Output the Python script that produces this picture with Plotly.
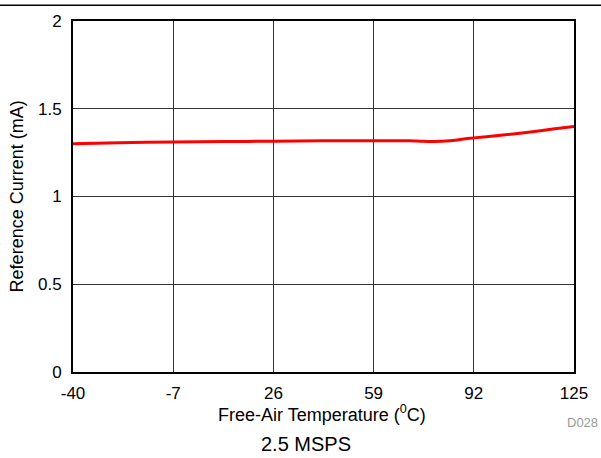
import plotly.graph_objects as go

temps = [-40, -25, -7, 10, 26, 42, 59, 66, 71, 75, 79, 84, 88, 92, 100, 110, 118, 125]
current = [1.301, 1.306, 1.311, 1.313, 1.315, 1.317, 1.318, 1.318, 1.318, 1.315, 1.314, 1.318, 1.326, 1.334, 1.347, 1.366, 1.384, 1.399]

x_ticks = [-40, -7, 26, 59, 92, 125]
y_ticks = [0, 0.5, 1, 1.5, 2]
y_tick_labels = ["0", "0.5", "1", "1.5", "2"]

FONT = "Liberation Sans, Arial, sans-serif"

fig = go.Figure()
fig.add_trace(go.Scatter(x=temps, y=current, mode="lines",
                         line=dict(color="#ff0000", width=3, shape="spline", smoothing=0.6),
                         showlegend=False, hoverinfo="skip"))

fig.update_layout(
    width=601, height=458,
    margin=dict(l=73, r=27, t=17, b=86),
    paper_bgcolor="white", plot_bgcolor="white",
    font=dict(family=FONT, size=17, color="black"),
    xaxis=dict(range=[-40, 125], tickvals=x_ticks, ticktext=[str(t) for t in x_ticks],
               showgrid=True, gridcolor="#333333", gridwidth=1,
               showline=True, linecolor="black", linewidth=2, mirror=True,
               zeroline=False, ticks="", ticklen=0, ticklabelstandoff=5,
               tickfont=dict(size=17)),
    yaxis=dict(range=[0, 2], tickvals=y_ticks, ticktext=y_tick_labels,
               showgrid=True, gridcolor="#333333", gridwidth=1,
               showline=True, linecolor="black", linewidth=2, mirror=True,
               zeroline=False, ticks="", ticklen=0, ticklabelstandoff=6,
               tickfont=dict(size=17)),
    shapes=[dict(type="line", xref="paper", yref="paper", x0=-0.2, x1=1.1,
                 y0=1.0 + 16/355, y1=1.0 + 16/355,
                 line=dict(color="black", width=1.5))],
    annotations=[
        dict(text="Free-Air Temperature (<sup>0</sup>C)", xref="paper", yref="paper",
             x=0.498, y=-0.118, xanchor="center", yanchor="middle", showarrow=False,
             font=dict(size=18, color="black", family=FONT)),
        dict(text="Reference Current (mA)", xref="paper", yref="paper",
             x=-0.112, y=0.5, xanchor="center", yanchor="middle", showarrow=False,
             textangle=-90, font=dict(size=18, color="black", family=FONT)),
        dict(text="D028", xref="paper", yref="paper", x=1.052, y=-0.1437,
             xanchor="right", yanchor="middle", showarrow=False,
             font=dict(size=13, color="#999999", family=FONT)),
        dict(text="2.5 MSPS", xref="paper", yref="paper", x=0.466, y=-0.2056,
             xanchor="center", yanchor="middle", showarrow=False,
             font=dict(size=20, color="black", family=FONT)),
    ],
)

fig.write_html("out.html", config={"displayModeBar": False},
               post_script="document.body.style.margin='0';document.body.style.padding='0';")
